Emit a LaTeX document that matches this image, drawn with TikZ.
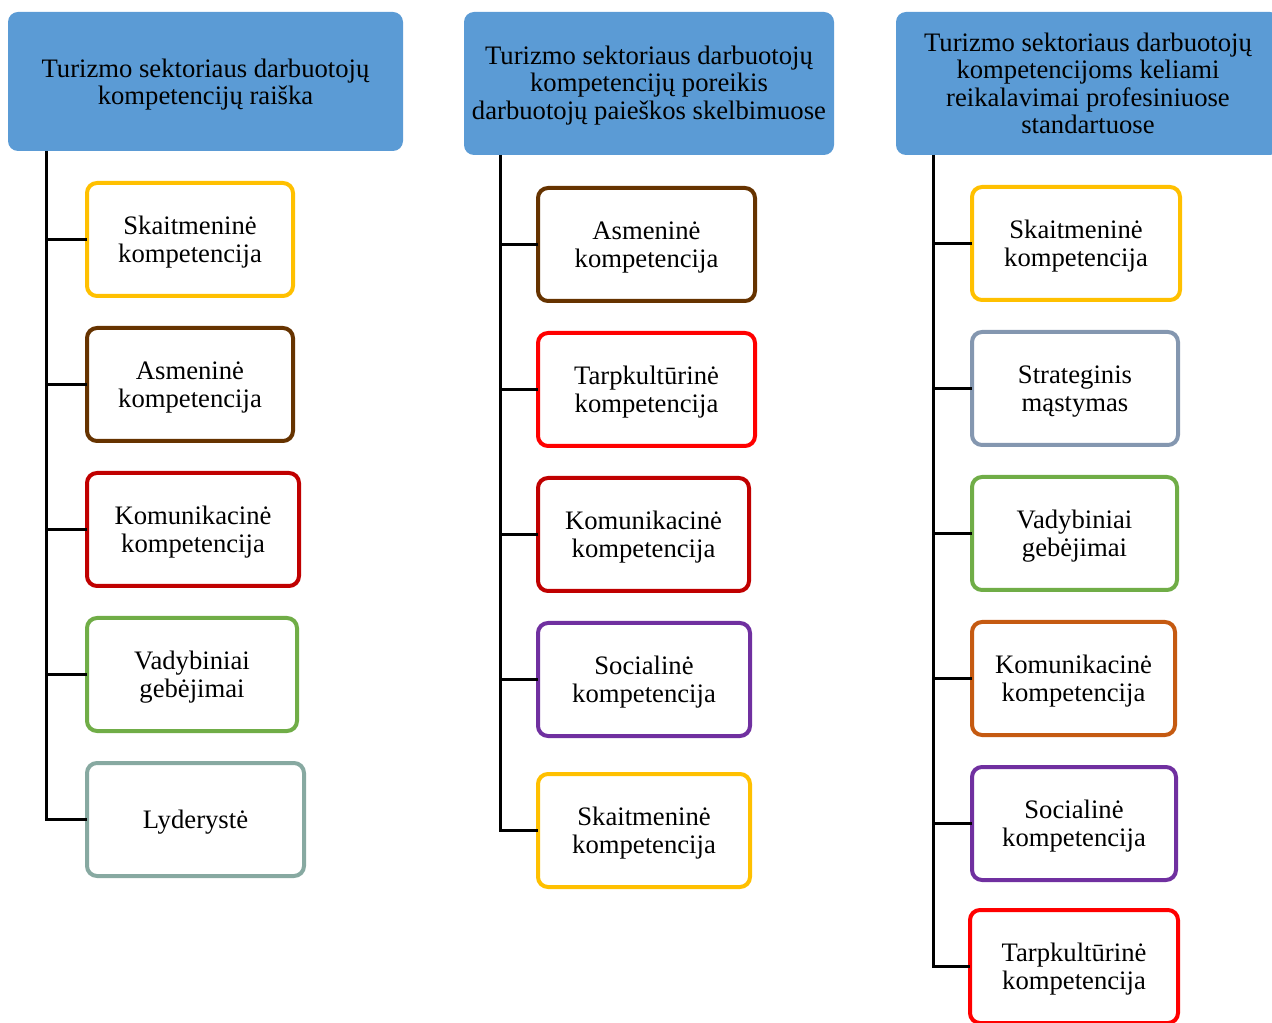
\documentclass[tikz,border=0pt]{standalone}
\usepackage{fontspec}
\setmainfont{Liberation Serif}
\definecolor{hblue}{HTML}{5B9BD5}
\definecolor{cyellow}{HTML}{FFC000}
\definecolor{cbrown}{HTML}{663300}
\definecolor{cdred}{HTML}{C00000}
\definecolor{cgreen}{HTML}{70AD47}
\definecolor{cteal}{HTML}{87A9A1}
\definecolor{cred}{HTML}{FF0000}
\definecolor{cpurple}{HTML}{7030A0}
\definecolor{cgblue}{HTML}{8497B0}
\definecolor{corange}{HTML}{C55A11}
\tikzset{
  tshift/.style={execute at begin node={\rule{0pt}{#1}}},
  hdr/.style={fill=hblue, draw=none, rounded corners=7.5pt, align=center,
    inner sep=0pt, outer sep=0pt,
    font=\fontsize{20}{20.6}\selectfont},
  cboxbase/.style={draw=#1, fill=white, line width=3pt, rounded corners=7.5pt,
    align=center, inner sep=0pt, outer sep=0pt, minimum height=84.75pt,
    font=\fontsize{20}{21}\selectfont},
  cbox/.style={cboxbase=#1, tshift=39.2pt},
  cboxone/.style={cboxbase=#1, tshift=18.2pt},
  conn/.style={line width=2.25pt, black},
}
\begin{document}
\begin{tikzpicture}[x=0.75pt,y=-0.75pt]
\useasboundingbox (0,0) rectangle (1272,1023);
\clip (0,0) rectangle (1272,1023);
% headers
\node[hdr, minimum width=296.25pt, minimum height=104.25pt, tshift=38.8pt] (h1) at (205.5,81.5)
  {Turizmo sektoriaus darbuotojų\\kompetencijų raiška};
\node[hdr, minimum width=277.5pt, minimum height=107.25pt, tshift=57.9pt] (h2) at (649,83.5)
  {Turizmo sektoriaus darbuotojų\\kompetencijų poreikis\\darbuotojų paieškos skelbimuose};
\node[hdr, minimum width=288pt, minimum height=107.25pt] (h3) at (1088,83.5)
  {Turizmo sektoriaus darbuotojų\\kompetencijoms keliami\\reikalavimai profesiniuose\\standartuose};
% column 1
\node[cbox=cyellow, minimum width=154.5pt] (s1) at (190,239.5) {Skaitmeninė\\kompetencija};
\node[cbox=cbrown, minimum width=154.5pt] (a1) at (190,384.5) {Asmeninė\\kompetencija};
\node[cbox=cdred, minimum width=159pt] (k1) at (193,529.5) {Komunikacinė\\kompetencija};
\node[cbox=cgreen, minimum width=157.5pt] (v1) at (192,674.5) {Vadybiniai\\gebėjimai};
\node[cboxone=cteal, minimum width=162.75pt] (l1) at (195.5,819.5) {Lyderystė};
% column 2
\node[cbox=cbrown, minimum width=162.75pt] (a2) at (646.5,244.5) {Asmeninė\\kompetencija};
\node[cbox=cred, minimum width=162.75pt] (t2) at (646.5,389.5) {Tarpkultūrinė\\kompetencija};
\node[cbox=cdred, minimum width=158.25pt] (k2) at (643.5,534.5) {Komunikacinė\\kompetencija};
\node[cbox=cpurple, minimum width=159pt] (so2) at (644,679.5) {Socialinė\\kompetencija};
\node[cbox=cyellow, minimum width=159pt] (s2) at (644,830.5) {Skaitmeninė\\kompetencija};
% column 3
\node[cbox=cyellow, minimum width=156pt] (s3) at (1076,243.5) {Skaitmeninė\\kompetencija};
\node[cbox=cgblue, minimum width=154.5pt] (st3) at (1075,388.5) {Strateginis\\mąstymas};
\node[cbox=cgreen, minimum width=153.75pt] (v3) at (1074.5,533.5) {Vadybiniai\\gebėjimai};
\node[cbox=corange, minimum width=152.25pt] (k3) at (1073.5,678.5) {Komunikacinė\\kompetencija};
\node[cbox=cpurple, minimum width=153pt] (so3) at (1074,823.5) {Socialinė\\kompetencija};
\node[cbox=cred, minimum width=156pt] (t3) at (1074,966.5) {Tarpkultūrinė\\kompetencija};
% trunks
\coordinate (r1) at (46,151);
\coordinate (r2) at (500,155);
\coordinate (r3) at (933,155);
\draw[conn] (r1) |- (l1.west);
\foreach \n in {s1,a1,k1,v1} \draw[conn] (r1 |- \n.west) -- (\n.west);
\draw[conn] (r2) |- (s2.west);
\foreach \n in {a2,t2,k2,so2} \draw[conn] (r2 |- \n.west) -- (\n.west);
\draw[conn] (r3) |- (t3.west);
\foreach \n in {s3,st3,v3,k3,so3} \draw[conn] (r3 |- \n.west) -- (\n.west);
\end{tikzpicture}
\end{document}
